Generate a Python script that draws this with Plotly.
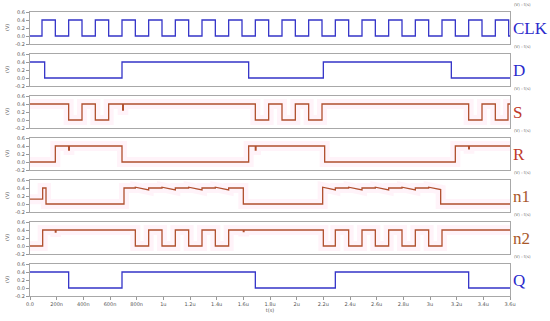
import plotly.graph_objects as go
from plotly.subplots import make_subplots

# ---------------- data (time in microseconds, value in volts) ----------------
clk_t = [0, 0.09, 0.19, 0.29, 0.39, 0.49, 0.59, 0.69, 0.79, 0.89, 0.99, 1.09, 1.19,
         1.29, 1.39, 1.49, 1.59, 1.69, 1.79, 1.89, 1.99, 2.09, 2.19, 2.29, 2.39,
         2.49, 2.59, 2.69, 2.79, 2.89, 2.99, 3.09, 3.19, 3.29, 3.39, 3.49, 3.59, 3.6]
clk_v = [0, 0.4, 0, 0.4, 0, 0.4, 0, 0.4, 0, 0.4, 0, 0.4, 0,
         0.4, 0, 0.4, 0, 0.4, 0, 0.4, 0, 0.4, 0, 0.4, 0,
         0.4, 0, 0.4, 0, 0.4, 0, 0.4, 0, 0.4, 0, 0.4, 0, 0]

d_t = [0, 0.11, 0.69, 1.64, 2.2, 3.16, 3.6]
d_v = [0.4, 0, 0.4, 0, 0.4, 0, 0]

s_t = [0, 0.29, 0.39, 0.49, 0.59, 0.695, 0.70, 1.69, 1.79, 1.89, 1.99, 2.09, 2.19,
       3.29, 3.39, 3.49, 3.585, 3.6]
s_v = [0.4, 0, 0.4, 0, 0.4, 0.25, 0.4, 0, 0.4, 0, 0.4, 0, 0.4,
       0, 0.4, 0, 0.4, 0.4]

r_t = [0, 0.19, 0.29, 0.295, 0.69, 1.64, 1.69, 1.695, 2.21, 3.19, 3.29, 3.295, 3.6]
r_v = [0, 0.4, 0.3, 0.4, 0, 0.4, 0.3, 0.4, 0, 0.4, 0.33, 0.4, 0.4]

n1_t = [0, 0.095, 0.095, 0.12, 0.12, 0.705, 0.705,
        0.79, 0.79, 0.89, 0.89, 0.99, 0.99, 1.09, 1.09, 1.19, 1.19, 1.29, 1.29,
        1.39, 1.39, 1.49, 1.49, 1.6, 1.6,
        2.195, 2.195, 2.29, 2.29, 2.39, 2.39, 2.49, 2.49, 2.59, 2.59, 2.69, 2.69,
        2.79, 2.79, 2.89, 2.89, 2.99, 2.99, 3.08, 3.08, 3.6]
n1_v = [0.12, 0.12, 0.4, 0.4, 0, 0, 0.4,
        0.4, 0.42, 0.35, 0.4, 0.4, 0.42, 0.35, 0.4, 0.4, 0.42, 0.35, 0.4,
        0.4, 0.42, 0.35, 0.4, 0.4, 0,
        0, 0.42, 0.35, 0.4, 0.4, 0.42, 0.35, 0.4, 0.4, 0.42, 0.35, 0.4,
        0.4, 0.42, 0.35, 0.4, 0.4, 0.42, 0.36, 0, 0]

n2_t = [0, 0.095, 0.19, 0.195, 0.79, 0.89, 0.99, 1.09, 1.19, 1.29, 1.39, 1.49,
        1.6, 1.605, 2.2, 2.29, 2.39, 2.49, 2.59, 2.69, 2.79, 2.89, 2.99, 3.09, 3.6]
n2_v = [0, 0.4, 0.35, 0.4, 0, 0.4, 0, 0.4, 0, 0.4, 0, 0.4,
        0.36, 0.4, 0, 0.4, 0, 0.4, 0, 0.4, 0, 0.4, 0, 0.4, 0.4]

q_t = [0, 0.29, 0.69, 1.69, 2.29, 3.29, 3.6]
q_v = [0.4, 0, 0.4, 0, 0.4, 0, 0]

signal_names = ["CLK", "D", "S", "R", "n1", "n2", "Q"]
y_ticks = [-0.2, 0.0, 0.2, 0.4, 0.6]
y_tick_labels = ["-0.2", "0.0", "0.2", "0.4", "0.6"]
x_ticks = [0, 0.2, 0.4, 0.6, 0.8, 1.0, 1.2, 1.4, 1.6, 1.8, 2.0, 2.2, 2.4, 2.6,
           2.8, 3.0, 3.2, 3.4, 3.6]
x_tick_labels = ["0.0", "200n", "400n", "600n", "800n", "1u", "1.2u", "1.4u", "1.6u",
                 "1.8u", "2u", "2.2u", "2.4u", "2.6u", "2.8u", "3u", "3.2u", "3.4u", "3.6u"]

# ---------------- figure ----------------
BLUE = "#3535c8"
RED = "#b0502e"
signals = [
    (clk_t, clk_v, BLUE, "hv", False, "#2b2bcc"),
    (d_t, d_v, BLUE, "hv", False, "#2b2bcc"),
    (s_t, s_v, RED, "hv", True, "#c03a2a"),
    (r_t, r_v, RED, "hv", True, "#c03a2a"),
    (n1_t, n1_v, RED, "linear", True, "#a8582a"),
    (n2_t, n2_v, RED, "hv", True, "#a8582a"),
    (q_t, q_v, BLUE, "hv", False, "#2b2bcc"),
]

fig = make_subplots(rows=7, cols=1, shared_xaxes=True, vertical_spacing=10 / 284)

for i, (t, v, col, shape, halo, lcol) in enumerate(signals):
    row = i + 1
    if halo:
        fig.add_trace(go.Scatter(x=t, y=v, mode="lines", line=dict(color="rgba(255,120,190,0.09)", width=10, shape=shape),
                                 hoverinfo="skip", showlegend=False), row=row, col=1)
    fig.add_trace(go.Scatter(x=t, y=v, mode="lines", line=dict(color=col, width=1.3, shape=shape),
                             showlegend=False), row=row, col=1)
    fig.update_yaxes(range=[-0.2, 0.6], tickvals=y_ticks, ticktext=y_tick_labels,
                     tickfont=dict(size=5, color="#555555", family="DejaVu Sans"),
                     ticks="outside", ticklen=3, tickcolor="#999999", automargin=False,
                     showline=True, mirror=True, linecolor="#a8a8a8", linewidth=1,
                     showgrid=False, zeroline=False, row=row, col=1)
    fig.update_xaxes(range=[0, 3.6], showline=True, mirror=True, linecolor="#a8a8a8", linewidth=1,
                     showgrid=False, zeroline=False, showticklabels=False, ticks="",
                     automargin=False, row=row, col=1)
    yref = "y domain" if row == 1 else f"y{row} domain"
    fig.add_annotation(xref="paper", yref=yref, x=1, y=0.5, xanchor="left", yanchor="middle",
                       xshift=1, text=signal_names[i], showarrow=False,
                       font=dict(family="Liberation Serif", size=17, color=lcol))
    fig.add_annotation(xref="paper", yref=yref, x=1, y=1, xanchor="left", yanchor="bottom",
                       xshift=2, yshift=3, text="(V) : t(s)", showarrow=False,
                       font=dict(family="DejaVu Sans", size=4, color="#666666"))
    fig.add_annotation(xref="paper", yref=yref, x=0, y=0.5, xanchor="center", yanchor="middle",
                       xshift=-23, text="(V)", textangle=-90, showarrow=False,
                       font=dict(family="DejaVu Sans", size=5, color="#555555"))

fig.update_xaxes(tickvals=x_ticks, ticktext=x_tick_labels, showticklabels=True,
                 ticks="outside", ticklen=3, tickcolor="#999999",
                 tickfont=dict(size=5, color="#555555", family="DejaVu Sans"),
                 title=dict(text="t(s)", font=dict(size=5, color="#555555", family="DejaVu Sans"), standoff=2),
                 row=7, col=1)

fig.update_layout(width=550, height=321, margin=dict(l=30, r=40, t=12, b=25),
                  paper_bgcolor="white", plot_bgcolor="white", showlegend=False)

fig.write_html("out.html", config={"displayModeBar": False},
               post_script="document.body.style.margin='0';document.body.style.overflow='hidden';")
